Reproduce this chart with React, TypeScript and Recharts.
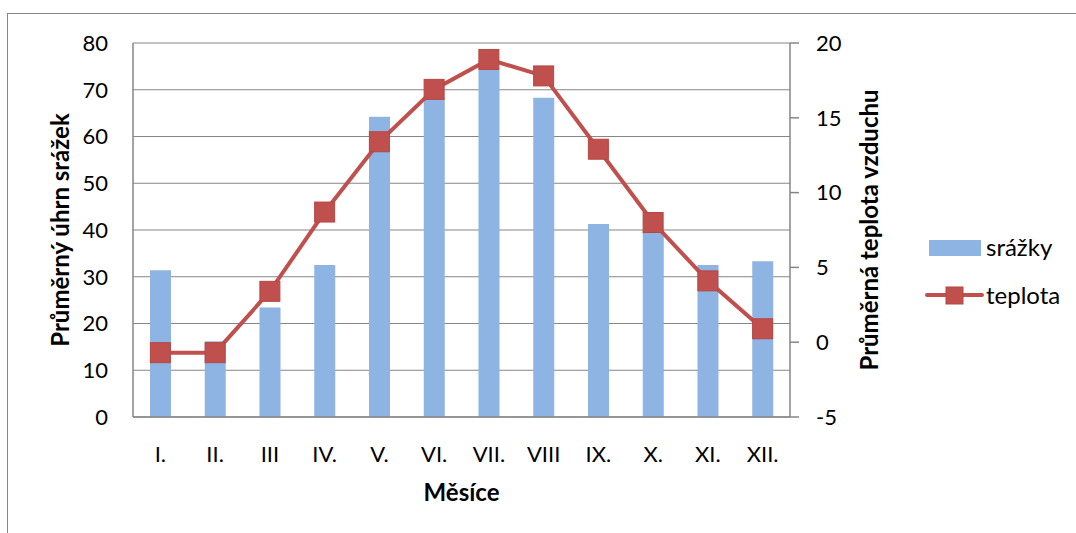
import {
  Bar,
  CartesianGrid,
  ComposedChart,
  Label,
  Legend,
  Line,
  XAxis,
  YAxis,
} from "recharts";

const months = ["I.", "II.", "III", "IV.", "V.", "VI.", "VII.", "VIII", "IX.", "X.", "XI.", "XII."];
const srazky = [31.4, 16.2, 23.4, 32.5, 64.2, 68.2, 74.3, 68.3, 41.3, 39.8, 32.5, 33.3];
const teplota = [-0.7, -0.7, 3.4, 8.7, 13.4, 16.9, 18.9, 17.8, 12.9, 8.0, 4.1, 0.9];
const srazkyTicks = [0, 10, 20, 30, 40, 50, 60, 70, 80];
const teplotaTicks = [-5, 0, 5, 10, 15, 20];

const BLUE = "#8EB4E3";
const RED = "#C0504D";
const AXIS = "#868686";
const FONT = "Lato, 'Open Sans', sans-serif";
const FS = 22;

const data = months.map((m, i) => ({ month: m, srazky: srazky[i], teplota: teplota[i] }));

type DotProps = { cx?: number; cy?: number; index?: number };

function squareDot({ cx, cy, index }: DotProps) {
  if (cx == null || cy == null) return <g key={index} />;
  return (
    <rect
      key={index}
      x={cx - 10}
      y={cy - 10}
      width={20}
      height={20}
      fill={RED}
      stroke="#B64743"
      strokeWidth={1}
    />
  );
}

type VB = { x: number; y: number; width: number; height: number };

function renderLegend() {
  const text = { fontFamily: FONT, fontSize: 24, fill: "#000" };
  return (
    <svg width={150} height={90}>
      <rect x={4} y={8} width={52} height={16} fill={BLUE} />
      <text x={61} y={24} style={text}>srážky</text>
      <line x1={2} y1={63} x2={57} y2={63} stroke={RED} strokeWidth={4} strokeLinecap="round" />
      <rect x={21} y={55} width={17} height={17} fill={RED} stroke="#B64743" />
      <text x={61} y={72} style={text}>teplota</text>
    </svg>
  );
}

export default function App() {
  const tick = { fontFamily: FONT, fontSize: FS, fill: "#000" };
  const title = { fontFamily: FONT, fontSize: 24, fontWeight: 700, fill: "#000" };
  return (
    <div style={{ position: "absolute", left: 0, top: 0, width: 1076, height: 533, background: "#fff" }}>
      <div
        style={{
          position: "absolute",
          left: 7,
          top: 13,
          width: 1100,
          height: 540,
          borderTop: `1.5px solid ${AXIS}`,
          borderLeft: `1.5px solid ${AXIS}`,
        }}
      />
      <ComposedChart
        width={1076}
        height={533}
        data={data}
        margin={{ top: 43, right: 0, bottom: 0, left: 0 }}
      >
        <CartesianGrid yAxisId="left" vertical={false} stroke={AXIS} strokeWidth={1.2} />
        <XAxis
          dataKey="month"
          interval={0}
          height={116}
          tickLine={false}
          tickSize={0}
          tickMargin={29}
          axisLine={{ stroke: AXIS, strokeWidth: 1.5 }}
          tick={tick}
        >
          <Label
            content={(p: { viewBox?: VB }) => {
              const vb = p.viewBox as VB;
              return (
                <text x={vb.x + vb.width / 2} y={501} textAnchor="middle" style={title}>
                  Měsíce
                </text>
              );
            }}
          />
        </XAxis>
        <YAxis
          yAxisId="left"
          orientation="left"
          width={133}
          domain={[0, 80]}
          ticks={srazkyTicks}
          interval={0}
          tickLine={false}
          tickSize={0}
          tickMargin={25}
          axisLine={{ stroke: AXIS, strokeWidth: 1.5 }}
          tick={tick}
        >
          <Label
            content={(p: { viewBox?: VB }) => {
              const vb = p.viewBox as VB;
              const cx = 59;
              const cy = vb.y + vb.height / 2;
              return (
                <text
                  x={cx}
                  y={cy}
                  transform={`rotate(-90 ${cx} ${cy})`}
                  textAnchor="middle"
                  dominantBaseline="central"
                  style={title}
                >
                  Průměrný úhrn srážek
                </text>
              );
            }}
          />
        </YAxis>
        <YAxis
          yAxisId="right"
          orientation="right"
          width={286}
          domain={[-5, 20]}
          ticks={teplotaTicks}
          interval={0}
          tickLine={{ stroke: AXIS, strokeWidth: 1.5 }}
          tickSize={9}
          tickMargin={17}
          axisLine={{ stroke: AXIS, strokeWidth: 1.5 }}
          tick={tick}
        >
          <Label
            content={(p: { viewBox?: VB }) => {
              const vb = p.viewBox as VB;
              const cx = 868;
              const cy = vb.y + vb.height / 2;
              return (
                <text
                  x={cx}
                  y={cy}
                  transform={`rotate(-90 ${cx} ${cy})`}
                  textAnchor="middle"
                  dominantBaseline="central"
                  style={title}
                >
                  Průměrná teplota vzduchu
                </text>
              );
            }}
          />
        </YAxis>
        <Bar yAxisId="left" dataKey="srazky" name="srážky" fill={BLUE} barSize={21} isAnimationActive={false} />
        <Line
          yAxisId="right"
          dataKey="teplota"
          name="teplota"
          type="linear"
          stroke={RED}
          strokeWidth={4}
          dot={squareDot as never}
          activeDot={false}
          isAnimationActive={false}
        />
        <Legend
          layout="horizontal"
          align="center"
          verticalAlign="middle"
          content={renderLegend}
          wrapperStyle={{ left: 925, top: 232, width: 150, height: 90 }}
        />
      </ComposedChart>
    </div>
  );
}
